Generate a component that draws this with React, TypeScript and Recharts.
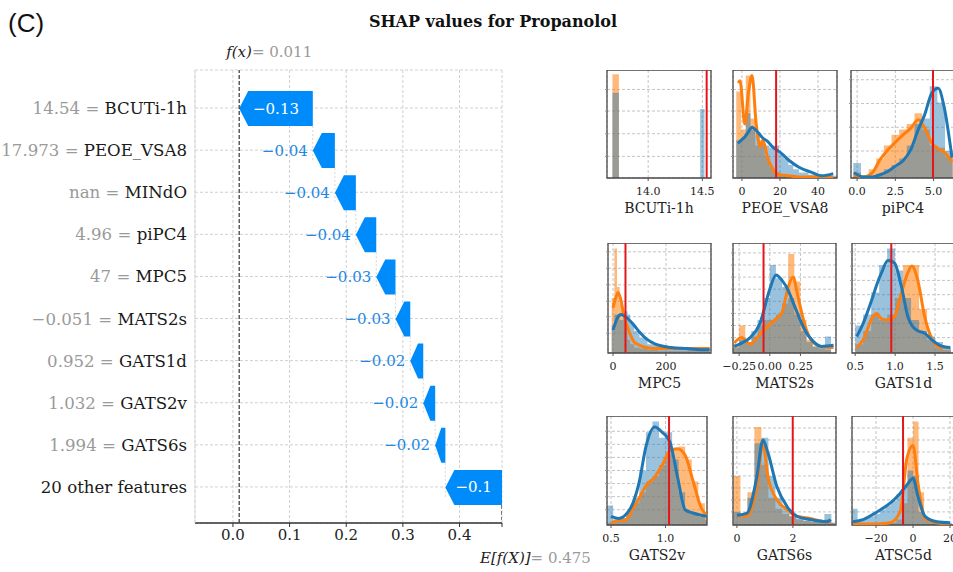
import React from "react";
import {
  ComposedChart,
  Bar,
  Area,
  Line,
  XAxis,
  YAxis,
  CartesianGrid,
  ReferenceLine,
  ReferenceArea,
} from "recharts";

// ---- waterfall data ----
const baseValue = 0.475;
const featureNames = [
  "BCUTi-1h",
  "PEOE_VSA8",
  "MINdO",
  "piPC4",
  "MPC5",
  "MATS2s",
  "GATS1d",
  "GATS2v",
  "GATS6s",
  "20 other features",
];
const featureValues = ["14.54", "17.973", "nan", "4.96", "47", "\u22120.051", "0.952", "1.032", "1.994", ""];
const shapValues = [-0.13, -0.039, -0.037, -0.036, -0.034, -0.026, -0.023, -0.021, -0.018, -0.1];
const mainTicks = [0, 0.1, 0.2, 0.3, 0.4];

// ---- small distribution plots: histogram edges/heights + kde curves ----
const bcutiEdges = [13.67, 13.73, 14.48, 14.52];
const bcutiHistBlue = [0.79, 0, 0.64];
const bcutiHistOrange = [0.96, 0, 0];

const peoeEdges = [-3, -0.5, 2, 4.5, 7, 9.5, 12, 14.5, 17, 19.5, 22, 24.5, 27, 30, 35, 40, 45, 50];
const peoeHistBlue = [0.35, 0.37, 0.6, 0.45, 0.4, 0.33, 0.3, 0.28, 0.3, 0.22, 0.18, 0.12, 0.08, 0.05, 0.03, 0.02, 0.02];
const peoeHistOrange = [0.8, 0.45, 0.95, 0.55, 0.3, 0.35, 0.2, 0.1, 0.05, 0.03, 0.02, 0.02, 0.01, 0.01, 0, 0, 0];
const peoeKdeX = [-2, -1, 1.5, 3.5, 5.3, 7.5, 9.5, 11, 13.5, 16, 20, 25, 30, 37, 42, 48];
const peoeKdeBlue = [0.32, 0.34, 0.38, 0.43, 0.47, 0.44, 0.4, 0.37, 0.34, 0.29, 0.24, 0.16, 0.1, 0.05, 0.02, 0.04];
const peoeKdeOrange = [0.88, 0.9, 0.5, 0.8, 0.95, 0.5, 0.29, 0.35, 0.19, 0.09, 0.03, 0.02, 0.01, 0.01, 0.01, 0.01];

const pipcEdges = [-0.25, 0.25, 0.75, 1.25, 1.75, 2.25, 2.75, 3.25, 3.75, 4.25, 4.75, 5.25, 5.75, 6.25];
const pipcHistBlue = [0.14, 0.02, 0.02, 0.04, 0.08, 0.12, 0.18, 0.3, 0.5, 0.55, 0.85, 0.7, 0.25];
const pipcHistOrange = [0.05, 0.02, 0.08, 0.18, 0.3, 0.4, 0.45, 0.5, 0.6, 0.45, 0.3, 0.28, 0.2];
const pipcKdeX = [-0.2, 0.4, 1.0, 1.5, 2.0, 2.5, 3.0, 3.5, 4.0, 4.4, 4.9, 5.3, 5.7, 6.2];
const pipcKdeBlue = [0.05, 0.01, 0.01, 0.03, 0.06, 0.11, 0.16, 0.26, 0.45, 0.58, 0.79, 0.83, 0.65, 0.19];
const pipcKdeOrange = [0.03, 0.01, 0.05, 0.17, 0.26, 0.33, 0.4, 0.46, 0.54, 0.47, 0.32, 0.27, 0.24, 0.15];

const mpcEdges = [-5, 5, 15, 25, 35, 45, 55, 65, 80, 100, 130, 170, 220, 280, 330, 365];
const mpcHistBlue = [0.25, 0.35, 0.35, 0.3, 0.32, 0.38, 0.35, 0.28, 0.2, 0.14, 0.08, 0.05, 0.03, 0.03, 0.03];
const mpcHistOrange = [0.5, 0.95, 0.6, 0.45, 0.3, 0.25, 0.12, 0.08, 0.05, 0.04, 0.03, 0.02, 0.02, 0.05, 0.03];
const mpcKdeX = [0, 10, 19, 30, 40, 53, 65, 80, 100, 125, 160, 220, 280, 330, 365];
const mpcKdeBlue = [0.21, 0.28, 0.33, 0.35, 0.34, 0.32, 0.29, 0.25, 0.19, 0.13, 0.08, 0.05, 0.04, 0.03, 0.03];
const mpcKdeOrange = [0.41, 0.5, 0.55, 0.48, 0.35, 0.25, 0.17, 0.1, 0.07, 0.05, 0.04, 0.04, 0.04, 0.04, 0.04];

const matsEdges = [-0.3, -0.25, -0.2, -0.15, -0.1, -0.05, 0, 0.05, 0.1, 0.15, 0.2, 0.25, 0.3, 0.35, 0.4, 0.45, 0.5];
const matsHistBlue = [0.05, 0.12, 0.1, 0.2, 0.3, 0.5, 0.8, 0.68, 0.6, 0.5, 0.35, 0.2, 0.1, 0.06, 0.05, 0.15];
const matsHistOrange = [0.08, 0.25, 0.1, 0.15, 0.25, 0.3, 0.3, 0.35, 0.45, 0.9, 0.65, 0.3, 0.12, 0.06, 0.04, 0.03];
const matsKdeX = [-0.29, -0.23, -0.16, -0.08, 0.0, 0.05, 0.1, 0.15, 0.19, 0.23, 0.29, 0.35, 0.42, 0.52];
const matsKdeBlue = [0.06, 0.09, 0.14, 0.27, 0.58, 0.71, 0.66, 0.57, 0.46, 0.35, 0.2, 0.11, 0.06, 0.07];
const matsKdeOrange = [0.09, 0.14, 0.08, 0.17, 0.26, 0.31, 0.37, 0.6, 0.69, 0.51, 0.24, 0.1, 0.06, 0.05];

const gats1dEdges = [0.5, 0.6, 0.7, 0.8, 0.9, 1.0, 1.1, 1.2, 1.3, 1.4, 1.5, 1.6, 1.7];
const gats1dHistBlue = [0.25, 0.35, 0.55, 0.8, 0.95, 0.75, 0.5, 0.3, 0.2, 0.15, 0.1, 0.05];
const gats1dHistOrange = [0.08, 0.2, 0.35, 0.3, 0.35, 0.5, 0.8, 0.8, 0.4, 0.12, 0.05, 0.03];
const gats1dKdeX = [0.52, 0.6, 0.72, 0.77, 0.83, 0.91, 0.99, 1.08, 1.16, 1.21, 1.29, 1.37, 1.46, 1.56, 1.69];
const gats1dKdeBlue = [0.15, 0.27, 0.51, 0.62, 0.73, 0.84, 0.82, 0.6, 0.33, 0.25, 0.2, 0.18, 0.12, 0.07, 0.05];
const gats1dKdeOrange = [0.05, 0.12, 0.33, 0.36, 0.31, 0.3, 0.33, 0.55, 0.73, 0.79, 0.64, 0.33, 0.13, 0.05, 0.05];

const gats2vEdges = [0.46, 0.52, 0.58, 0.64, 0.7, 0.76, 0.82, 0.88, 0.94, 1.0, 1.06, 1.12, 1.18, 1.24, 1.3, 1.36, 1.42];
const gats2vHistBlue = [0.18, 0.05, 0.06, 0.12, 0.25, 0.5, 0.85, 0.95, 0.8, 0.85, 0.6, 0.3, 0.12, 0.1, 0.08, 0.05];
const gats2vHistOrange = [0.02, 0.03, 0.05, 0.12, 0.2, 0.3, 0.4, 0.45, 0.55, 0.65, 0.7, 0.72, 0.6, 0.4, 0.2, 0.08];
const gats2vKdeX = [0.5, 0.57, 0.64, 0.7, 0.76, 0.82, 0.9, 0.97, 1.04, 1.11, 1.18, 1.25, 1.33, 1.38];
const gats2vKdeBlue = [0.08, 0.06, 0.1, 0.2, 0.4, 0.72, 0.9, 0.85, 0.76, 0.44, 0.14, 0.11, 0.09, 0.08];
const gats2vKdeOrange = [0.02, 0.04, 0.05, 0.15, 0.25, 0.36, 0.44, 0.55, 0.68, 0.7, 0.64, 0.41, 0.15, 0.09];

const gats6sEdges = [-0.125, 0.125, 0.375, 0.625, 0.875, 1.125, 1.375, 1.625, 1.875, 2.125, 2.375, 2.625, 2.875, 3.125, 3.375, 3.5];
const gats6sHistBlue = [0.12, 0.1, 0.25, 0.75, 0.8, 0.45, 0.25, 0.15, 0.08, 0.06, 0.04, 0.03, 0.03, 0.1, 0.02];
const gats6sHistOrange = [0.45, 0.08, 0.3, 0.9, 0.55, 0.25, 0.15, 0.1, 0.08, 0.05, 0.04, 0.03, 0.02, 0.05, 0.02];
const gats6sKdeX = [0, 0.36, 0.71, 0.93, 1.11, 1.43, 1.79, 2.14, 2.61, 3.21, 3.35];
const gats6sKdeBlue = [0.09, 0.11, 0.44, 0.78, 0.66, 0.35, 0.17, 0.08, 0.05, 0.03, 0.05];
const gats6sKdeOrange = [0.09, 0.08, 0.35, 0.75, 0.44, 0.23, 0.14, 0.08, 0.06, 0.03, 0.03];

const atscEdges = [-33, -30, -27, -24, -21, -18, -15, -12, -9, -6, -3, 0, 3, 6, 9, 12, 15, 18, 21];
const atscHistBlue = [0.15, 0.04, 0.06, 0.08, 0.1, 0.14, 0.18, 0.22, 0.28, 0.35, 0.5, 0.45, 0.12, 0.05, 0.03, 0.02, 0.02, 0.02];
const atscHistOrange = [0.01, 0.01, 0.01, 0.01, 0.01, 0.01, 0.01, 0.02, 0.05, 0.2, 0.8, 0.95, 0.3, 0.05, 0.02, 0.01, 0.01, 0.01];
const atscKdeX = [-32.5, -27, -19.5, -12.4, -7, -3.2, 0, 2.7, 6.5, 13, 20];
const atscKdeBlue = [0.03, 0.05, 0.12, 0.2, 0.29, 0.37, 0.43, 0.26, 0.08, 0.03, 0.02];
const atscKdeOrange = [0.01, 0.01, 0.01, 0.02, 0.12, 0.62, 0.73, 0.38, 0.06, 0.02, 0.01];

const SERIF = "DejaVu Serif";
const BAR_BLUE = "#008bfb";
const TEXT_BLUE = "#1e88e5";
const PAD_TOP = 17;
const PAD_BOTTOM = 15;

const waterfallRows = featureNames.map((name, i) => {
  const start = baseValue + shapValues.slice(i + 1).reduce((a, b) => a + b, 0);
  const end = start + shapValues[i];
  return {
    name,
    value: featureValues[i],
    shap: shapValues[i],
    range: [Math.min(start, end), Math.max(start, end)],
  };
});
const fx = baseValue + shapValues.reduce((a, b) => a + b, 0);

const fmtShap = (v: number) => Number(v.toFixed(2)).toString().replace("-", "\u2212");

function ArrowShape(props: any) {
  const { x, y, width, height, payload, index, background } = props;
  const left = Math.min(x, x + width);
  const right = Math.max(x, x + width);
  const w = right - left;
  const head = Math.min(9, w * 0.6);
  const band = background && background.height ? background.height : 42;
  const isLast = index === waterfallRows.length - 1;
  const pts = `${left},${y + height / 2} ${left + head},${y} ${right},${y} ${right},${y + height} ${left + head},${y + height}`;
  const inside = w > 40;
  return (
    <g>
      {isLast ? (
        <line
          x1={right}
          x2={right}
          y1={y + height}
          y2={y + height / 2 + band / 2 + PAD_BOTTOM}
          stroke="#333"
          strokeWidth={1.2}
          strokeDasharray="4 2"
        />
      ) : (
        <line x1={right} x2={right} y1={y + height} y2={y + height + band} stroke="#c4c4c4" strokeWidth={0.7} strokeDasharray="2 2" />
      )}
      <polygon points={pts} fill={BAR_BLUE} />
      <text
        x={inside ? (left + right) / 2 : left - 5}
        y={y + height / 2 + 5}
        textAnchor={inside ? "middle" : "end"}
        fill={inside ? "#fff" : TEXT_BLUE}
        fontFamily={SERIF}
        fontSize={15}
      >
        {fmtShap(payload.shap)}
      </text>
    </g>
  );
}

function FeatureTick(props: any) {
  const { x, y, payload } = props;
  const row = waterfallRows.find((r) => r.name === payload.value);
  return (
    <text x={x} y={y + 6} textAnchor="end" fontFamily={SERIF} fontSize={16.6}>
      {row && row.value !== "" ? <tspan fill="#9a9a9a">{row.value} = </tspan> : null}
      <tspan fill="#1a1a1a">{payload.value}</tspan>
    </text>
  );
}

function FxLabel(props: any) {
  const { viewBox } = props;
  return (
    <text x={viewBox.x - 13} y={viewBox.y - 13} fontFamily={SERIF} fontSize={15}>
      <tspan fill="#222" fontStyle="italic">f(x)</tspan>
      <tspan fill="#9a9a9a">= {fx.toFixed(3)}</tspan>
    </text>
  );
}

function BaseLabel(props: any) {
  const { viewBox } = props;
  return (
    <text x={viewBox.x - 22} y={viewBox.y + viewBox.height + 40} fontFamily={SERIF} fontSize={15}>
      <tspan fill="#222" fontStyle="italic">E[f(X)]</tspan>
      <tspan fill="#9a9a9a">= {baseValue}</tspan>
    </text>
  );
}

function Waterfall() {
  const domain: [number, number] = [-0.067, baseValue];
  return (
    <div style={{ position: "absolute", left: 0, top: 0 }}>
      <ComposedChart
        layout="vertical"
        width={600}
        height={572}
        data={waterfallRows}
        margin={{ top: 70, right: 98, bottom: 19, left: 0 }}
      >
        <CartesianGrid strokeDasharray="3 2" stroke="#d0d0d0" />
        <XAxis
          type="number"
          domain={domain}
          ticks={[...mainTicks, baseValue]}
          allowDataOverflow
          interval={0}
          height={30}
          tickFormatter={(v: number) => (v === baseValue ? "" : v.toFixed(1))}
          tick={{ fontFamily: SERIF, fontSize: 15, fill: "#222" }}
          axisLine={{ stroke: "#333", strokeWidth: 1.5 }}
          tickLine={{ stroke: "#333" }}
          tickSize={4}
        />
        <XAxis
          xAxisId="top"
          orientation="top"
          type="number"
          domain={domain}
          allowDataOverflow
          height={0}
          tick={false}
          tickLine={false}
          axisLine={{ stroke: "#dddddd" }}
        />
        <YAxis
          type="category"
          dataKey="name"
          width={195}
          tick={<FeatureTick />}
          axisLine={{ stroke: "#dddddd" }}
          tickLine={false}
          tickSize={0}
          tickMargin={8}
          padding={{ top: PAD_TOP, bottom: PAD_BOTTOM }}
          interval={0}
        />
        <YAxis
          yAxisId="right"
          orientation="right"
          type="category"
          dataKey="name"
          width={0}
          tick={false}
          tickLine={false}
          axisLine={{ stroke: "#dddddd" }}
        />
        <ReferenceLine x={fx} stroke="#333" strokeDasharray="4 2" strokeWidth={1.2} label={(p: any) => <FxLabel {...p} />} />
        <ReferenceLine x={baseValue} stroke="none" label={(p: any) => <BaseLabel {...p} />} />
        <Bar dataKey="range" barSize={35} shape={ArrowShape} isAnimationActive={false} />
      </ComposedChart>
    </div>
  );
}

type MiniSpec = {
  title: string;
  edges: number[];
  histBlue: number[];
  histOrange: number[];
  kdeX: number[];
  kdeBlue: number[];
  kdeOrange: number[];
  marker: number;
  domain: [number, number];
  ticks: number[];
  decimals: number;
  yGrid: number[];
  left: number;
  top: number;
  width: number;
  height: number;
};

function buildRows(s: MiniSpec) {
  const rows: any[] = [];
  s.edges.forEach((x, i) => {
    rows.push({ x, hb: i < s.histBlue.length ? s.histBlue[i] : 0, ho: i < s.histOrange.length ? s.histOrange[i] : 0 });
  });
  s.kdeX.forEach((x, i) => rows.push({ x, kb: s.kdeBlue[i], ko: s.kdeOrange[i] }));
  return rows.sort((a, b) => a.x - b.x);
}

function MiniPlot({ s }: { s: MiniSpec }) {
  const rows = buildRows(s);
  const yAxisW = 6;
  const padL = 14;
  const padR = 14;
  return (
    <div style={{ position: "absolute", left: s.left - yAxisW - padL, top: s.top }}>
      <ComposedChart
        width={s.width + yAxisW + padL + padR}
        height={s.height + 45}
        data={rows}
        margin={{ top: 0, right: padR, bottom: 0, left: padL }}
      >
        <CartesianGrid strokeDasharray="3 2" stroke="#c4c4c4" />
        <XAxis
          type="number"
          dataKey="x"
          domain={s.domain}
          ticks={s.ticks}
          interval={0}
          allowDataOverflow
          height={45}
          axisLine={false}
          tickSize={3}
          tickMargin={6}
          tickLine={{ stroke: "#555" }}
          tickFormatter={(v: number) => v.toFixed(s.decimals).replace("-", "\u2212")}
          tick={{ fontFamily: SERIF, fontSize: 11, fill: "#222" }}
          label={{ value: s.title, position: "insideBottom", offset: 10, style: { fontFamily: SERIF, fontSize: 14, fill: "#222" } }}
        />
        <YAxis
          type="number"
          domain={[0, 1]}
          ticks={s.yGrid}
          allowDataOverflow
          width={yAxisW}
          axisLine={false}
          tickSize={2}
          tickLine={{ stroke: "#999" }}
          tickFormatter={() => ""}
        />
        <Area dataKey="ho" type="stepAfter" fill="#ff7f0e" fillOpacity={0.55} stroke="none" connectNulls isAnimationActive={false} />
        <Area dataKey="hb" type="stepAfter" fill="#1f77b4" fillOpacity={0.45} stroke="none" connectNulls isAnimationActive={false} />
        <Line dataKey="ko" type="monotone" stroke="#ff7f0e" strokeWidth={3} dot={false} connectNulls isAnimationActive={false} />
        <Line dataKey="kb" type="monotone" stroke="#1f77b4" strokeWidth={3} dot={false} connectNulls isAnimationActive={false} />
        <ReferenceLine x={s.marker} stroke="#e3161c" strokeWidth={2} />
        <ReferenceArea x1={s.domain[0]} x2={s.domain[1]} y1={0} y2={1} fill="none" stroke="#4a4a4a" strokeWidth={1.3} ifOverflow="visible" />
      </ComposedChart>
    </div>
  );
}

const miniPlots: MiniSpec[] = [
  { title: "BCUTi-1h", edges: bcutiEdges, histBlue: bcutiHistBlue, histOrange: bcutiHistOrange, kdeX: [], kdeBlue: [], kdeOrange: [], marker: 14.54, domain: [13.62, 14.58], ticks: [14.0, 14.5], decimals: 1, yGrid: [0.2, 0.41, 0.62, 0.82], left: 607, top: 70, width: 104, height: 108 },
  { title: "PEOE_VSA8", edges: peoeEdges, histBlue: peoeHistBlue, histOrange: peoeHistOrange, kdeX: peoeKdeX, kdeBlue: peoeKdeBlue, kdeOrange: peoeKdeOrange, marker: 17.973, domain: [-4.7, 50], ticks: [0, 20, 40], decimals: 0, yGrid: [0.2, 0.41, 0.62, 0.82], left: 733, top: 70, width: 104, height: 108 },
  { title: "piPC4", edges: pipcEdges, histBlue: pipcHistBlue, histOrange: pipcHistOrange, kdeX: pipcKdeX, kdeBlue: pipcKdeBlue, kdeOrange: pipcKdeOrange, marker: 4.96, domain: [-0.4, 6.4], ticks: [0, 2.5, 5.0], decimals: 1, yGrid: [0.25, 0.47, 0.69, 0.91], left: 851, top: 70, width: 104, height: 108 },
  { title: "MPC5", edges: mpcEdges, histBlue: mpcHistBlue, histOrange: mpcHistOrange, kdeX: mpcKdeX, kdeBlue: mpcKdeBlue, kdeOrange: mpcKdeOrange, marker: 47, domain: [-19, 370], ticks: [0, 200], decimals: 0, yGrid: [0.18, 0.33, 0.47, 0.62, 0.77, 0.92], left: 608, top: 243, width: 103, height: 110 },
  { title: "MATS2s", edges: matsEdges, histBlue: matsHistBlue, histOrange: matsHistOrange, kdeX: matsKdeX, kdeBlue: matsKdeBlue, kdeOrange: matsKdeOrange, marker: -0.051, domain: [-0.3, 0.54], ticks: [-0.25, 0, 0.25], decimals: 2, yGrid: [0.14, 0.25, 0.36, 0.47, 0.58, 0.69, 0.8, 0.91], left: 733, top: 243, width: 103, height: 110 },
  { title: "GATS1d", edges: gats1dEdges, histBlue: gats1dHistBlue, histOrange: gats1dHistOrange, kdeX: gats1dKdeX, kdeBlue: gats1dKdeBlue, kdeOrange: gats1dKdeOrange, marker: 0.952, domain: [0.46, 1.75], ticks: [0.5, 1.0, 1.5], decimals: 1, yGrid: [0.14, 0.27, 0.4, 0.53, 0.66, 0.79, 0.92], left: 852, top: 243, width: 103, height: 110 },
  { title: "GATS2v", edges: gats2vEdges, histBlue: gats2vHistBlue, histOrange: gats2vHistOrange, kdeX: gats2vKdeX, kdeBlue: gats2vKdeBlue, kdeOrange: gats2vKdeOrange, marker: 1.032, domain: [0.463, 1.38], ticks: [0.5, 1.0], decimals: 1, yGrid: [0.14, 0.26, 0.38, 0.5, 0.62, 0.74, 0.86], left: 607, top: 416, width: 100, height: 109 },
  { title: "GATS6s", edges: gats6sEdges, histBlue: gats6sHistBlue, histOrange: gats6sHistOrange, kdeX: gats6sKdeX, kdeBlue: gats6sKdeBlue, kdeOrange: gats6sKdeOrange, marker: 1.994, domain: [-0.14, 3.54], ticks: [0, 2], decimals: 0, yGrid: [0.12, 0.23, 0.34, 0.45, 0.56, 0.67, 0.78, 0.89], left: 733, top: 416, width: 103, height: 109 },
  { title: "ATSC5d", edges: atscEdges, histBlue: atscHistBlue, histOrange: atscHistOrange, kdeX: atscKdeX, kdeBlue: atscKdeBlue, kdeOrange: atscKdeOrange, marker: -5.4, domain: [-33, 22.7], ticks: [-20, 0, 20], decimals: 0, yGrid: [0.12, 0.23, 0.34, 0.45, 0.56, 0.67, 0.78, 0.89], left: 852, top: 416, width: 103, height: 109 },
];

export default function App() {
  return (
    <div style={{ position: "absolute", left: 0, top: 0, width: 953, height: 572, overflow: "hidden", background: "#fff" }}>
      <div style={{ position: "absolute", left: 8, top: 8, fontFamily: "Liberation Sans", fontSize: 26, lineHeight: "30px", color: "#111" }}>
        (C)
      </div>
      <div
        style={{
          position: "absolute",
          left: 493,
          top: 12,
          transform: "translateX(-50%)",
          whiteSpace: "nowrap",
          fontFamily: SERIF,
          fontWeight: "bold",
          fontSize: 16,
          lineHeight: "20px",
          color: "#111",
        }}
      >
        SHAP values for Propanolol
      </div>
      <Waterfall />
      {miniPlots.map((s) => (
        <MiniPlot key={s.title} s={s} />
      ))}
    </div>
  );
}
